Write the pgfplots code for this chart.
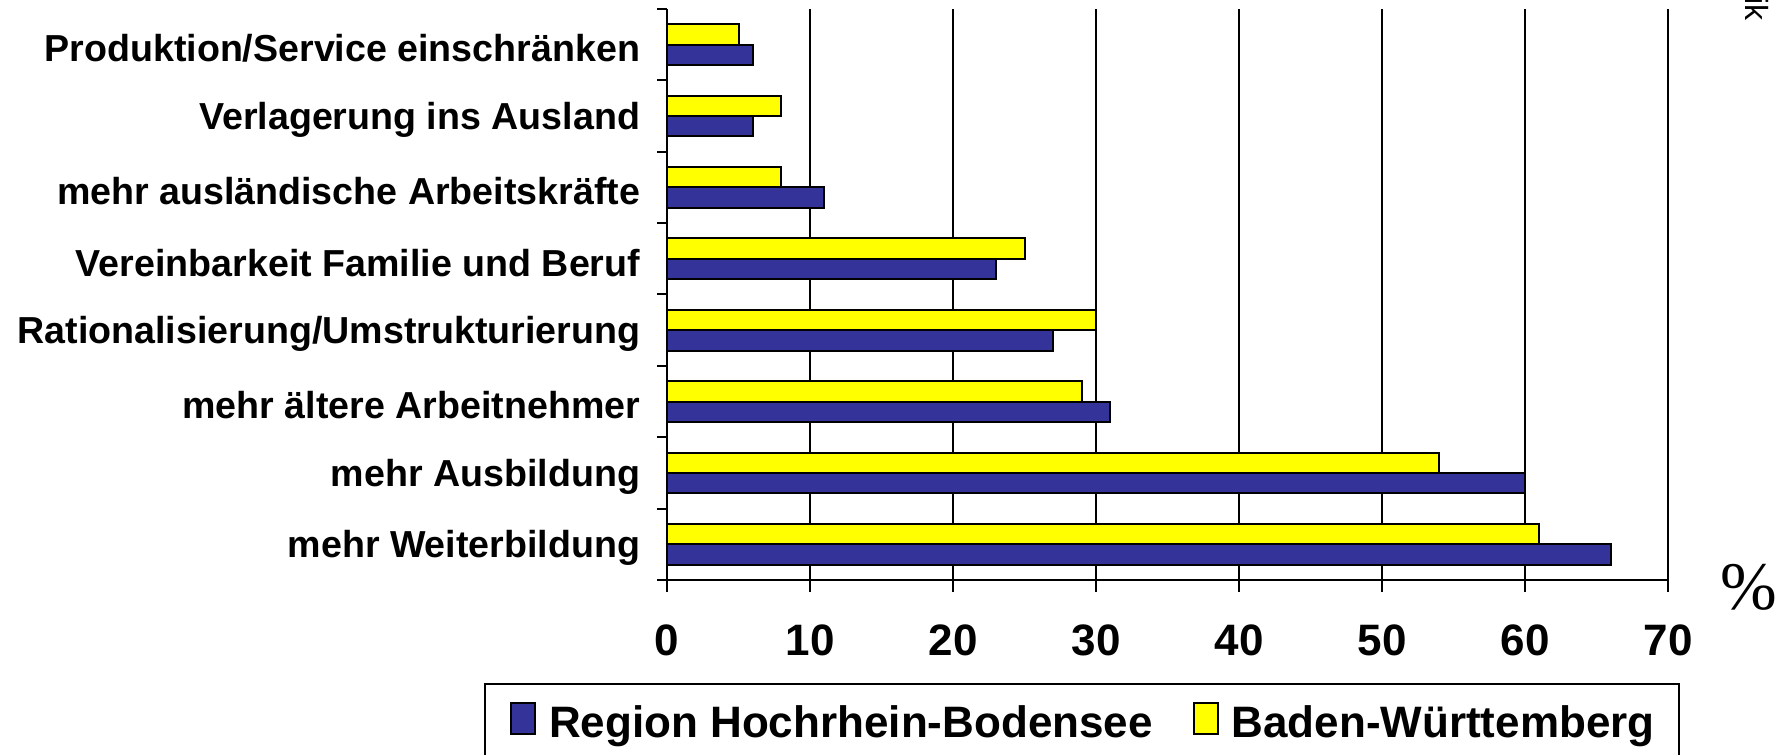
\documentclass[border=0pt]{standalone}
\usepackage{pgfplots}
\pgfplotsset{compat=1.18}
\usepackage{fontspec}
\setmainfont{Liberation Sans}
\newfontfamily\seriffont{Liberation Serif}
\definecolor{hbblue}{RGB}{51,51,153}
\definecolor{bwyellow}{RGB}{255,255,0}
\begin{document}
\begin{tikzpicture}
\useasboundingbox (0,0) rectangle (446.75pt,188.75pt);
\begin{axis}[
  at={(166.75pt,43.75pt)}, anchor=south west,
  width=250.25pt, height=142.75pt, scale only axis,
  xmin=0, xmax=70, ymin=0.5, ymax=8.5,
  axis x line*=bottom, axis y line*=left,
  axis line style={black, line width=0.5pt},
  xtick={0,10,...,70},
  xmajorgrids, grid style={black, line width=0.4pt},
  ytick={1,...,8},
  yticklabels={mehr Weiterbildung, mehr Ausbildung, mehr ältere Arbeitnehmer, Rationalisierung/Umstrukturierung, Vereinbarkeit Familie und Beruf, mehr ausländische Arbeitskräfte, Verlagerung ins Ausland, Produktion/Service einschränken},
  minor ytick={0.5,1.5,...,8.5},
  tick align=outside,
  major tick length=3pt, minor tick length=2.5pt,
  major y tick style={draw=none},
  tick style={black, line width=0.5pt},
  /pgf/number format/assume math mode=true,
  xticklabel style={font=\fontsize{11}{13}\selectfont\bfseries, yshift=-4.75pt},
  yticklabel style={font=\fontsize{9.4}{11}\selectfont\bfseries, xshift=-0.2pt, yshift=-1pt},
  legend columns=2,
  legend style={at={(0,0)}, anchor=north west, xshift=-45.75pt, yshift=-25.75pt,
    draw=black, line width=0.5pt, inner xsep=4pt, inner ysep=3.3pt,
    font=\fontsize{11}{13}\selectfont\bfseries,
    /tikz/every odd column/.append style={column sep=1.2pt},
    /tikz/every even column/.append style={column sep=5.7pt}},
  legend cell align=left,
  legend image code/.code={\path (0pt,0pt); \draw[#1, line width=0.5pt] (2.3pt,-2.5pt) rectangle (8.3pt,5.2pt);},
]
\addplot[xbar, bar width=5.1pt, bar shift=-2.55pt, fill=hbblue, draw=black, line width=0.5pt]
  coordinates {(66,1) (60,2) (31,3) (27,4) (23,5) (11,6) (6,7) (6,8)};
\addplot[xbar, bar width=5.1pt, bar shift=2.55pt, fill=bwyellow, draw=black, line width=0.5pt]
  coordinates {(61,1) (54,2) (29,3) (30,4) (25,5) (8,6) (8,7) (5,8)};
\legend{Region Hochrhein-Bodensee, Baden-Württemberg}
\end{axis}
\node[font=\seriffont\fontsize{17}{19}\selectfont] at (437.25pt,42pt) {\%};
\node[font=\fontsize{8}{9}\selectfont, rotate=-90, anchor=east, inner sep=0pt] at (439.25pt,183.5pt) {ik};
\end{tikzpicture}
\end{document}
